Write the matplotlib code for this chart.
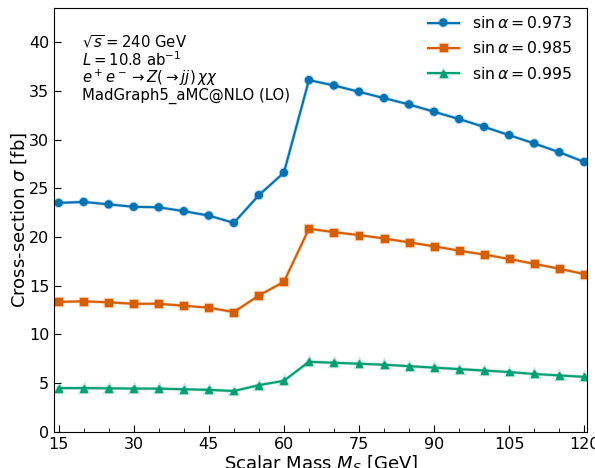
import matplotlib
matplotlib.use("Agg")
import matplotlib.pyplot as plt
import matplotlib.patheffects as pe
from matplotlib.ticker import MultipleLocator

mass = [15, 20, 25, 30, 35, 40, 45, 50, 55, 60, 65, 70, 75, 80, 85, 90, 95, 100, 105, 110, 115, 120]
sig_973 = [23.5, 23.6, 23.35, 23.1, 23.05, 22.65, 22.2, 21.45, 24.3, 26.6, 36.1, 35.55, 34.9,
           34.25, 33.6, 32.85, 32.1, 31.3, 30.45, 29.6, 28.7, 27.7]
sig_985 = [13.35, 13.4, 13.3, 13.15, 13.15, 12.95, 12.75, 12.3, 14.0, 15.4, 20.85, 20.5, 20.2,
           19.85, 19.45, 19.05, 18.6, 18.2, 17.75, 17.25, 16.75, 16.2]
sig_995 = [4.5, 4.5, 4.48, 4.45, 4.45, 4.38, 4.32, 4.2, 4.8, 5.25, 7.2, 7.1, 7.0,
           6.9, 6.75, 6.6, 6.45, 6.3, 6.15, 5.95, 5.8, 5.65]
labels = [r"$\sin\alpha = 0.973$", r"$\sin\alpha = 0.985$", r"$\sin\alpha = 0.995$"]
colors = ["#0072B2", "#D55E00", "#009E73"]
markers = ["o", "s", "^"]
xticks = [15, 30, 45, 60, 75, 90, 105, 120]

fig = plt.figure(figsize=(5.95, 4.68), dpi=100)
ax = fig.add_axes([0.091, 0.077, 0.896, 0.906])

for ys, lab, c, m in zip([sig_973, sig_985, sig_995], labels, colors, markers):
    ax.plot(mass, ys, color=c, marker=m, markersize=5, linewidth=1.5, label=lab,
            path_effects=[pe.Stroke(linewidth=2.5, foreground=c, alpha=0.25), pe.Normal()])

ax.set_xlim(14.1, 120.6)
ax.set_ylim(0, 43.5)
ax.set_xticks(xticks)
ax.xaxis.set_minor_locator(MultipleLocator(5))
ax.yaxis.set_major_locator(MultipleLocator(5))
ax.tick_params(direction="in", which="both", labelsize=11.5)
ax.tick_params(which="major", length=5)
ax.tick_params(which="minor", length=3)
ax.set_xlabel(r"Scalar Mass $M_S$ [GeV]", fontsize=13, labelpad=1)
ax.set_ylabel(r"Cross-section $\sigma$ [fb]", fontsize=13, labelpad=0)

ax.text(0.052, 0.94, "$\\sqrt{s} = 240$ GeV\n$L = 10.8$ ab$^{-1}$\n$e^+e^- \\to Z(\\to jj)\\,\\chi\\chi$\nMadGraph5_aMC@NLO (LO)",
        transform=ax.transAxes, va="top", ha="left", fontsize=10.7, linespacing=0.97)

ax.legend(loc="upper right", bbox_to_anchor=(0.985, 1.0), frameon=False, fontsize=11.3,
          handlelength=2.0, borderaxespad=0.05, labelspacing=0.6)

fig.savefig("out.png", dpi=100)
